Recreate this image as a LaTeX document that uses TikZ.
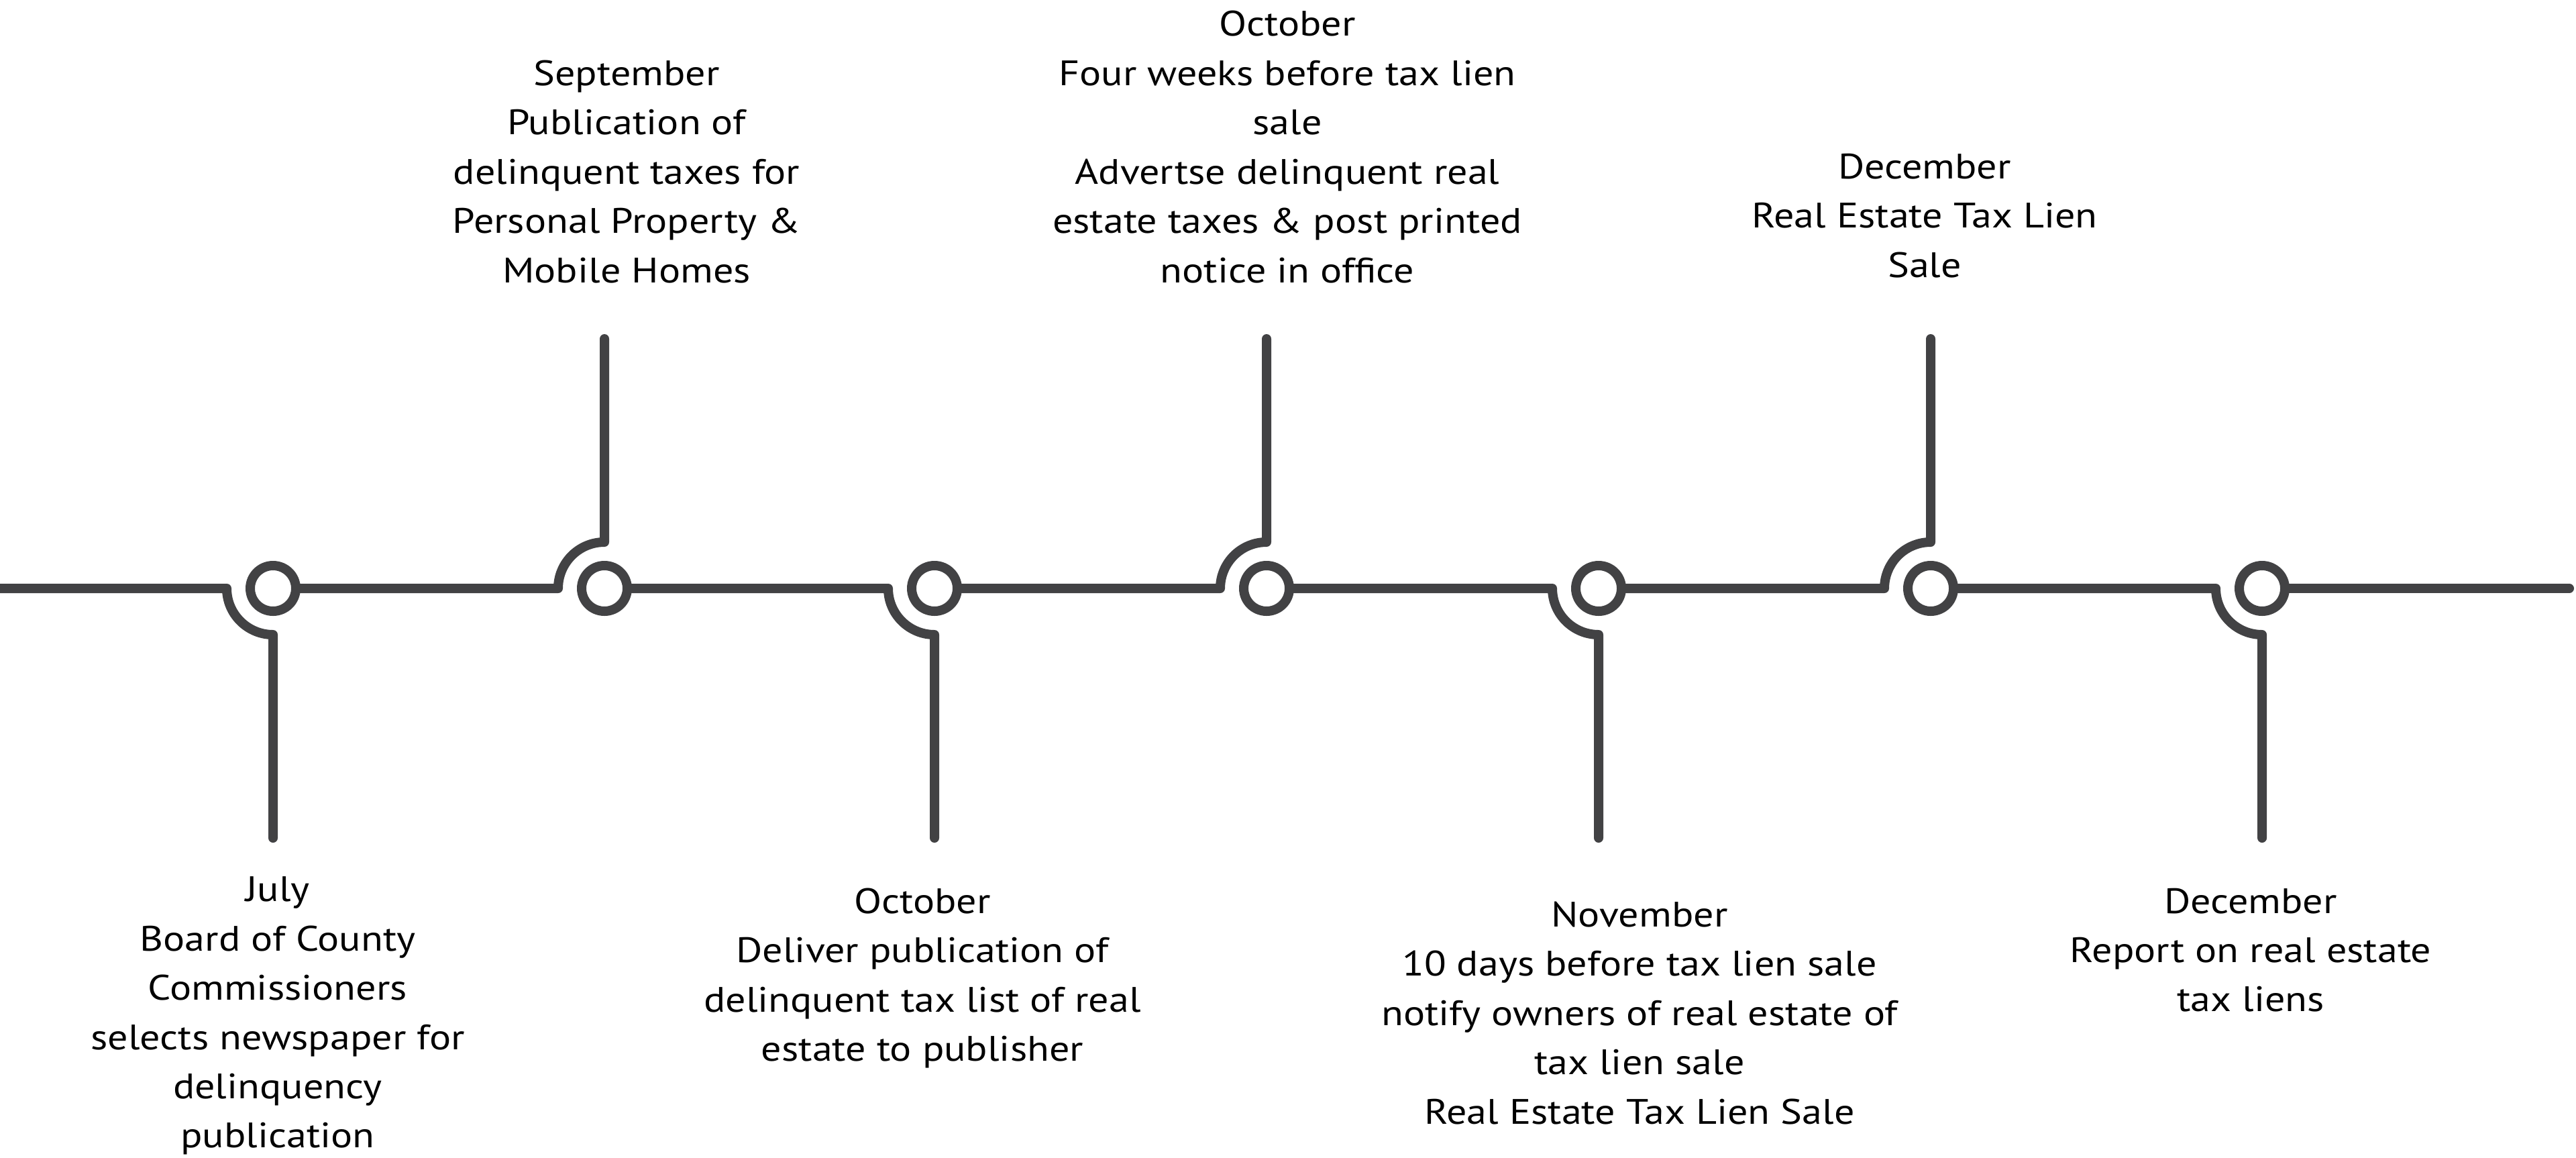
\documentclass[tikz,border=0pt]{standalone}
\usepackage{fontspec}
\setmainfont{PT Sans}[FakeStretch=1.14]
\usetikzlibrary{positioning}
\definecolor{trackgray}{HTML}{424244}

\tikzset{
  track/.style={draw=trackgray, line width=0.14cm, line cap=round, line join=round},
  stopdot/.style={circle, draw=trackgray, line width=0.14cm, minimum size=0.68cm, inner sep=0pt},
  eventtext/.style={align=center, inner sep=0pt, font=\fontsize{15}{20.9}\selectfont,
    execute at begin node=\strut, execute at end node=\strut},
}

\begin{document}
\begin{tikzpicture}
\useasboundingbox (0,-8.48) rectangle (38.4,8.77);
% stops on the time line
\foreach \n/\x/\s in {1/4.07/-1,2/9.01/1,3/13.93/-1,4/18.88/1,5/23.83/-1,6/28.78/1,7/33.72/-1}{
  \node[stopdot] (c\n) at (\x,0) {};
  \coordinate (k\n) at (\x-0.69,0);
  \coordinate (t\n) at (\x,\s*3.72);
}
\coordinate (start) at (0,0);
\coordinate (end) at (38.3,0);
% time line, bending into the stems
\foreach \n/\p/\e in {1/start/270,2/c1.east/90,3/c2.east/270,4/c3.east/90,5/c4.east/270,6/c5.east/90,7/c6.east/270}
  \draw[track] (\p) -- (k\n) arc[start angle=180, end angle=\e, radius=0.69] -- (t\n);
\draw[track] (c7.east) -- (end);

% events above the line
\node[eventtext, anchor=south] (sep) at (9.34,4.33) {September\\Publication of\\delinquent taxes for\\Personal Property \&\\Mobile Homes};
\node[eventtext, anchor=south] (octa) at (19.19,4.33) {October\\Four weeks before tax lien\\sale\\Advertse delinquent real\\estate taxes \& post printed\\notice in office};
\node[eventtext, anchor=south] (deca) at (28.69,4.41) {December\\Real Estate Tax Lien\\Sale};
% events below the line
\node[eventtext, anchor=north] (jul) at (4.14,-4.29) {July\\Board of County\\Commissioners\\selects newspaper for\\delinquency\\publication};
\node[eventtext, anchor=north] (octb) at (13.75,-4.46) {October\\Deliver publication of\\delinquent tax list of real\\estate to publisher};
\node[eventtext, anchor=north] (nov) at (24.44,-4.66) {November\\10 days before tax lien sale\\notify owners of real estate of\\tax lien sale\\Real Estate Tax Lien Sale};
\node[eventtext, anchor=north] (decb) at (33.55,-4.46) {December\\Report on real estate\\tax liens};
\end{tikzpicture}
\end{document}
